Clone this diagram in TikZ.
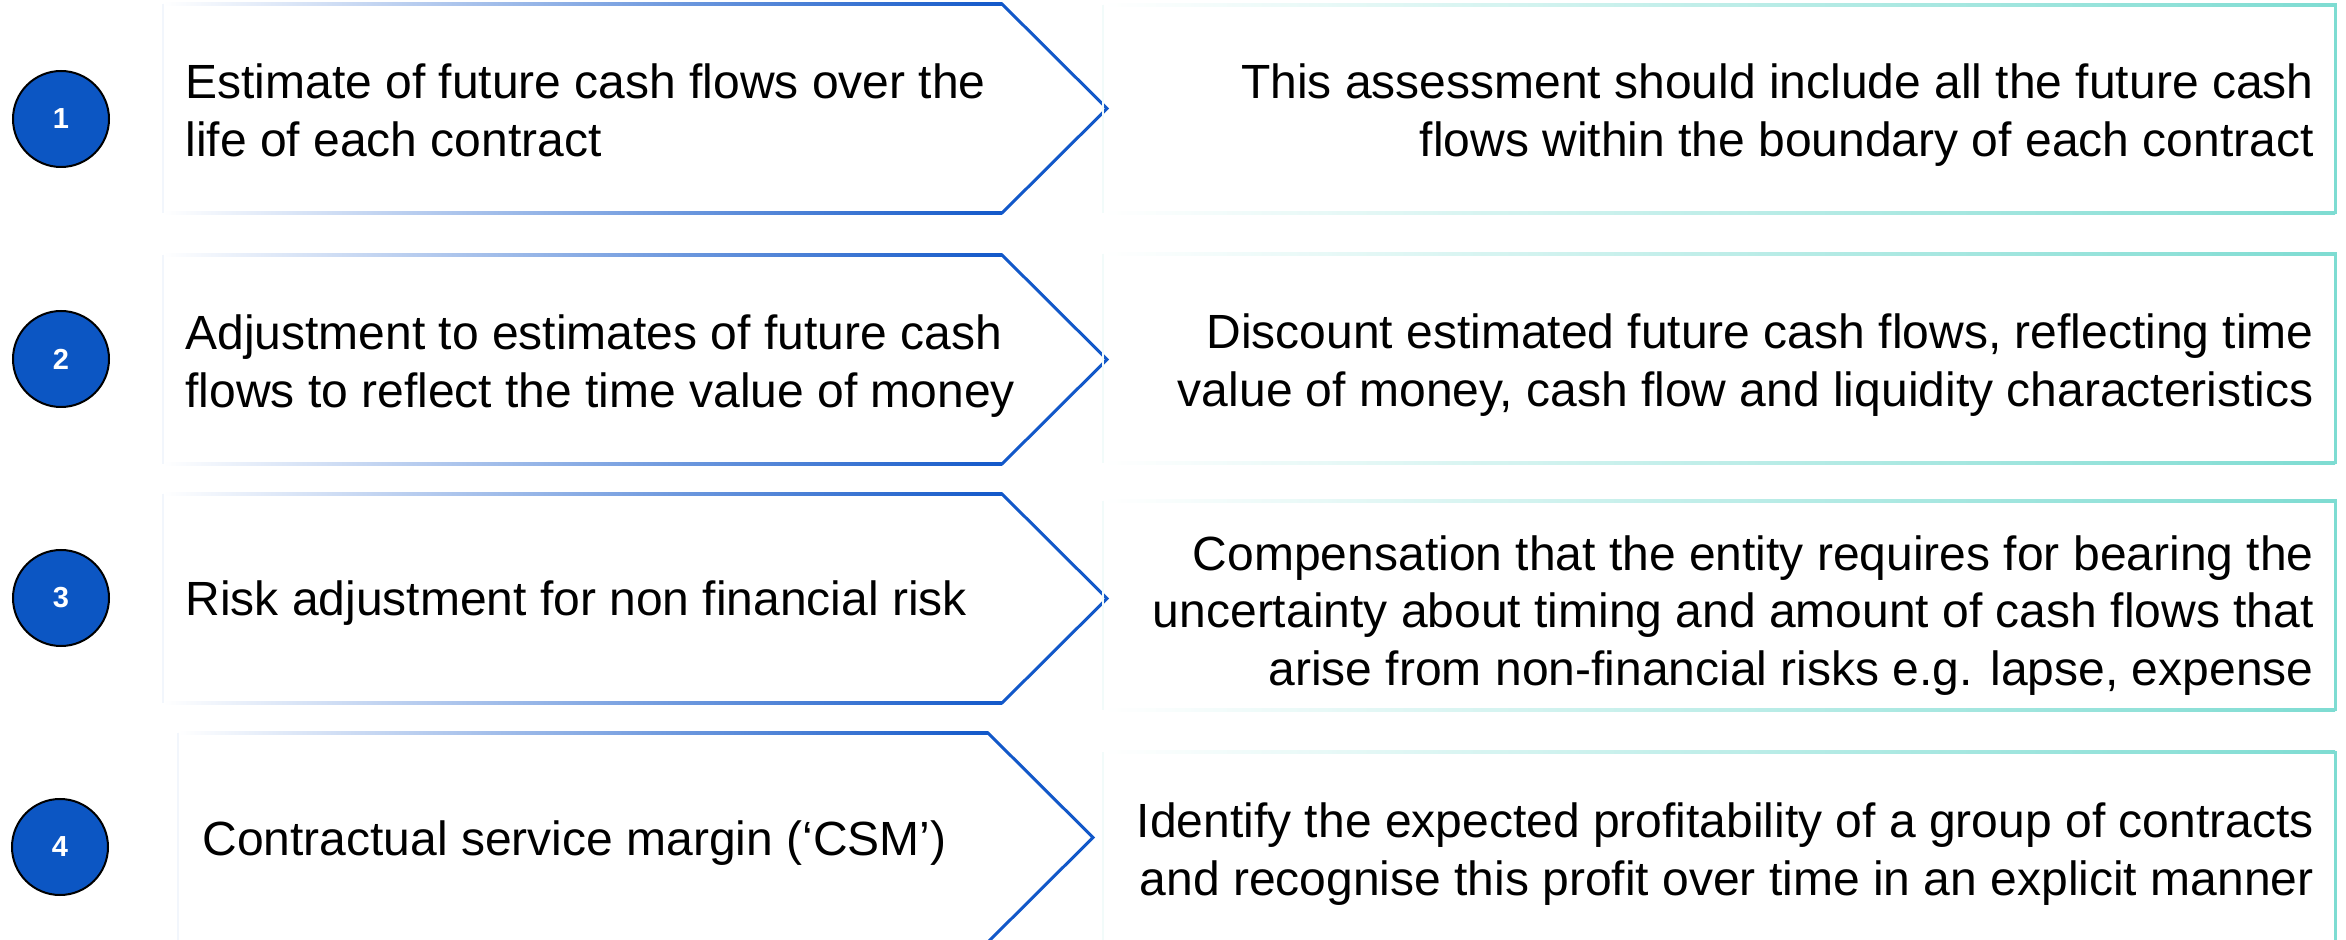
\documentclass[tikz,border=0pt]{standalone}
\usepackage{fontspec}
\setmainfont{Liberation Sans}
\begin{document}
\definecolor{stepblue}{HTML}{1258C9}
\definecolor{badgeblue}{HTML}{0C56C3}
\definecolor{noteteal}{HTML}{7EDCD2}
\definecolor{faintblue}{HTML}{F2F6FC}
\definecolor{fainteal}{HTML}{F2FBFA}
% pixel-like units, y grows downwards
\tikzset{
  x=0.5pt, y=-0.5pt,
  stepline/.style={draw=stepblue, line width=1.5pt, line join=miter},
  noteline/.style={draw=noteteal, line width=1.5pt, line join=miter},
  faintstep/.style={draw=faintblue, line width=1pt},
  faintnote/.style={draw=fainteal, line width=1pt},
  badge/.style={circle, fill=badgeblue, draw=black, line width=1pt,
    minimum size=48pt, inner sep=0pt, text=white,
    font=\fontsize{14.5}{17}\selectfont\bfseries},
  % multi-line texts are placed by the baseline of their last line
  steptext/.style={anchor=base west, align=left, inner sep=0pt,
    font=\fontsize{24}{29}\selectfont},
  notetext/.style={anchor=base east, align=right, inner sep=0pt,
    font=\fontsize{24}{29}\selectfont},
}
% chevron outline: left, top, shoulder, tip, bottom
\newcommand\stepchevron[5]{%
  \pgfmathsetmacro\chevmid{(#2+#5)/2}%
  \shade[left color=white, right color=stepblue] (#1,#2-1.5) rectangle (#3,#2+1.5);
  \shade[left color=white, right color=stepblue] (#1,#5-1.5) rectangle (#3,#5+1.5);
  \draw[stepline] (#3-3,#2) -- (#3,#2) -- (#4,\chevmid) -- (#3,#5) -- (#3-3,#5);
  \draw[faintstep] (#1,#2) -- (#1,#5);
}
% description frame: left, top, right, bottom
\newcommand\notebox[4]{%
  \shade[left color=white, right color=noteteal] (#1,#2-1.5) rectangle (#3,#2+1.5);
  \shade[left color=white, right color=noteteal] (#1,#4-1.5) rectangle (#3,#4+1.5);
  \draw[noteline] (#3-3,#2) -- (#3,#2) -- (#3,#4) -- (#3-3,#4);
  \draw[faintnote] (#1,#2) -- (#1,#4);
}
\begin{tikzpicture}
\useasboundingbox (0,0) rectangle (2346,940);
\fill[white] (0,0) rectangle (2346,940);
\clip (0,0) rectangle (2346,940);

% chevrons
\stepchevron{163}{4}{1002}{1107}{213}
\stepchevron{163}{255}{1002}{1107}{464}
\stepchevron{163}{494}{1002}{1107}{703}
\stepchevron{178}{733}{988}{1093}{942}

% description frames
\notebox{1103}{5}{2335}{213}
\notebox{1103}{254}{2335}{463}
\notebox{1103}{501}{2335}{710}
\notebox{1103}{752}{2335}{942}

% numbered badges
\node[badge] (n1) at (61,119) {1};
\node[badge] (n2) at (61,359) {2};
\node[badge] (n3) at (61,598) {3};
\node[badge] (n4) at (60,847) {4};

% step titles
\node[steptext] (s1) at (185,157) {Estimate of future cash flows over the\\life of each contract};
\node[steptext] (s2) at (185,408) {Adjustment to estimates of future cash\\flows to reflect the time value of money};
\node[steptext] (s3) at (185,616) {Risk adjustment for non financial risk};
\node[steptext] (s4) at (202,855) {Contractual service margin (‘CSM’)};

% descriptions
\node[notetext] (d1) at (2314,157) {This assessment should include all the future cash\\flows within the boundary of each contract};
\node[notetext] (d2) at (2314,407) {Discount estimated future cash flows, reflecting time\\value of money, cash flow and liquidity characteristics};
\node[notetext] (d3) at (2314,686) {Compensation that the entity requires for bearing the\\uncertainty about timing and amount of cash flows that\\arise from non-financial risks e.g. lapse, expense};
\node[notetext] (d4) at (2314,895) {Identify the expected profitability of a group of contracts\\and recognise this profit over time in an explicit manner};
\end{tikzpicture}
\end{document}
